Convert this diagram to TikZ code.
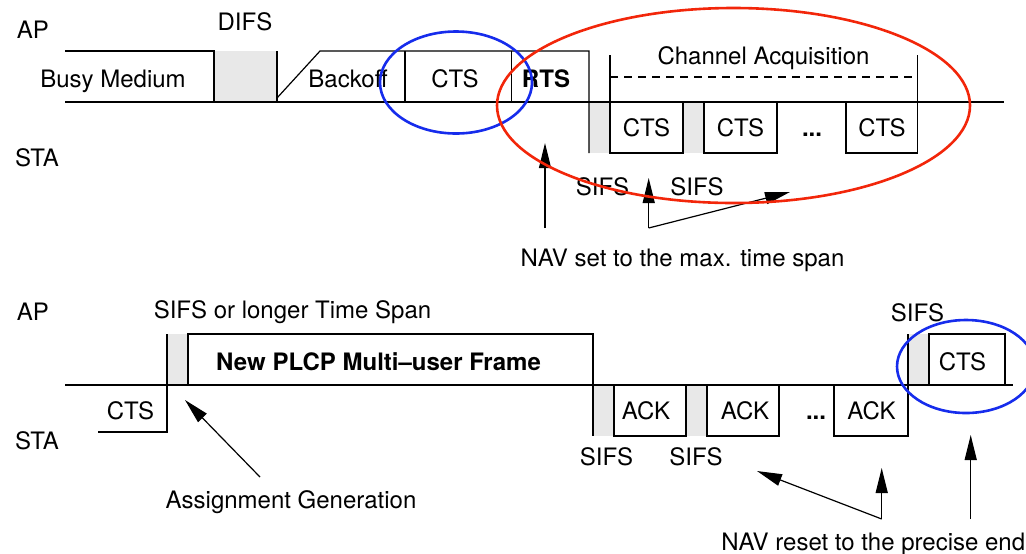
\documentclass[tikz,border=0pt]{standalone}
\usepackage{fontspec}
\setmainfont{TeX Gyre Heros}
\usetikzlibrary{arrows.meta,positioning,calc}
\definecolor{ringred}{RGB}{242,38,10}
\definecolor{ringblue}{RGB}{22,44,236}
\tikzset{
  lbl/.style={font=\fontsize{12}{14}\selectfont, inner sep=0pt, anchor=base},
  bold/.style={lbl, font=\fontsize{12}{14}\selectfont\bfseries},
  frm/.style={draw, line width=0.6pt},
  ifs/.style={fill=black!9},
  arrow/.style={-{Triangle[length=12.5pt,width=6pt]}, line width=0.6pt},
  ring/.style={line width=1.3pt}
}

\begin{document}
\begin{tikzpicture}[x=0.5pt, y=-0.5pt]
    \useasboundingbox (0,0) rectangle (1026,553);

    % ---------- RTS / CTS exchange ----------
    \node[lbl] (ap1) at (33,38) {AP};
    \node[lbl] (sta1) at (37,166) {STA};

    % interframe spaces
    \fill[ifs] (214,51) rectangle (277,102);
    \fill[ifs] (589,102) rectangle (610,153);
    \fill[ifs] (683,102) rectangle (704,153);

    % AP frames
    \draw[frm] (65,102) -- (1004,102);
    \draw[frm] (65,51) -- (214,51) -- (214,102);
    \draw[frm] (277,51) -- (277,102);
    \draw[frm] (277,98) -- (320,51) -- (589,51) -- (589,153);
    \draw[frm] (405,51) -- (405,102);
    \draw[frm] (511.5,51) -- (511.5,102);
    \node[lbl] (busy) at (113,87) {Busy Medium};
    \node[lbl] (difs) at (245,30.5) {DIFS};
    \node[lbl] (backoff) at (348,87) {Backoff};
    \node[lbl] (cts0) at (455,87) {CTS};
    \node[bold] (rts) at (546,87) {RTS};

    % channel acquisition span
    \draw[frm] (610,55) -- (610,102);
    \draw[frm] (917.5,55) -- (917.5,102);
    \draw[frm, dashed, dash pattern=on 4pt off 3pt] (610,77) -- (917.5,77);
    \node[lbl] (acq) at (763.5,64) {Channel Acquisition};

    % STA replies
    \draw[frm] (610,102) rectangle (683,153);
    \draw[frm] (704,102) rectangle (777,153);
    \draw[frm] (846,102) rectangle (917.5,153);
    \node[lbl] (cts1) at (646.5,136) {CTS};
    \node[lbl] (cts2) at (740.5,136) {CTS};
    \node[bold] (dots1) at (812,136) {...};
    \node[lbl] (cts3) at (882,136) {CTS};
    \node[lbl] (sifs1) at (602.5,195) {SIFS};
    \node[lbl] (sifs2) at (697,195) {SIFS};

    % NAV pointers
    \node[lbl] (navset) at (682.5,266) {NAV set to the max. time span};
    \coordinate (setfoot) at (545,228);
    \coordinate (settip) at (545,143);
    \coordinate (sifsfoot) at (648.7,228);
    \coordinate (sifstip) at (648.7,178);
    \coordinate (spantip) at (790,192);
    \draw[arrow] (setfoot) -- (settip);
    \draw[arrow] (sifsfoot) -- (sifstip);
    \draw[arrow] (sifsfoot) -- (spantip);

    % highlights
    \draw[ring, ringblue] (456,82.5) ellipse [x radius=38pt, y radius=25.5pt];
    \draw[ring, ringred] (733.5,105.5) ellipse [x radius=118.25pt, y radius=48.75pt];

    % ---------- multi-user frame / ACKs ----------
    \node[lbl] (ap2) at (33,320) {AP};
    \node[lbl] (sta2) at (37,449) {STA};

    % interframe spaces
    \fill[ifs] (167,334) rectangle (188,385);
    \fill[ifs] (593,385) rectangle (614,436);
    \fill[ifs] (686,385) rectangle (707,436);
    \fill[ifs] (908,334) rectangle (929,385);

    \draw[frm] (65,385) -- (1013,385);
    \draw[frm] (98,432) -- (167,432) -- (167,334);
    \draw[frm] (188,385) -- (188,334) -- (593,334) -- (593,436);
    \node[lbl] (cts4) at (130.5,419.5) {CTS};
    \node[lbl] (span) at (292.5,318) {SIFS or longer Time Span};
    \node[bold] (plcp) at (378.5,370) {New PLCP Multi--user Frame};

    % ACK replies
    \draw[frm] (614,385) rectangle (686,436);
    \draw[frm] (707,385) rectangle (779,436);
    \draw[frm] (834,385) rectangle (908,436);
    \draw[frm] (908,334) -- (908,385);
    \draw[frm] (929,385) -- (929,334) -- (1005,334) -- (1005,385);
    \node[lbl] (ack1) at (646,419) {ACK};
    \node[lbl] (ack2) at (745,419) {ACK};
    \node[bold] (dots2) at (816,419) {...};
    \node[lbl] (ack3) at (871.5,419) {ACK};
    \node[lbl] (cts5) at (962.5,370) {CTS};
    \node[lbl] (sifs3) at (606.5,465) {SIFS};
    \node[lbl] (sifs4) at (696,465) {SIFS};
    \node[lbl] (sifs5) at (917.5,321.5) {SIFS};

    % pointers
    \node[lbl] (assign) at (291,508) {Assignment Generation};
    \node[lbl, anchor=base west] (navreset) at (721,550) {NAV reset to the precise end};
    \coordinate (assignfoot) at (260,477);
    \coordinate (assigntip) at (185,400);
    \coordinate (resetfoot) at (881.7,519);
    \coordinate (resettip) at (881.7,468);
    \coordinate (acktip) at (757,471);
    \coordinate (endfoot) at (970.7,519);
    \coordinate (endtip) at (970.7,435);
    \draw[arrow] (assignfoot) -- (assigntip);
    \draw[arrow] (resetfoot) -- (resettip);
    \draw[arrow] (resetfoot) -- (acktip);
    \draw[arrow] (endfoot) -- (endtip);

    \draw[ring, ringblue] (966,366.5) ellipse [x radius=34.5pt, y radius=23.25pt];
\end{tikzpicture}
\end{document}
